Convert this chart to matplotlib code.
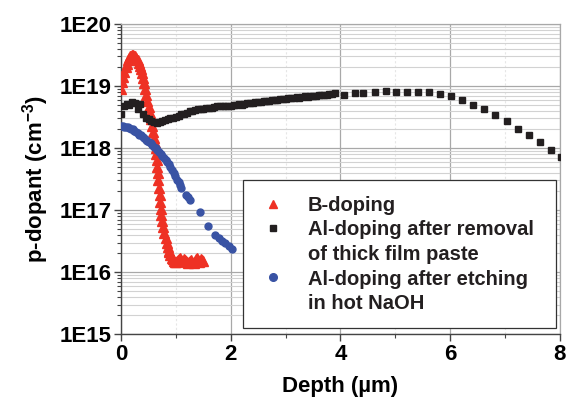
import numpy as np
import matplotlib
matplotlib.use("Agg")
import matplotlib.pyplot as plt
from matplotlib.lines import Line2D
from matplotlib.ticker import FixedLocator, LogLocator, NullFormatter

plt.rcParams['font.family'] = ['Liberation Sans', 'DejaVu Sans']
plt.rcParams['font.weight'] = 'bold'
plt.rcParams['mathtext.fontset'] = 'custom'
plt.rcParams['mathtext.rm'] = 'Liberation Sans:bold'
plt.rcParams['mathtext.bf'] = 'Liberation Sans:bold'

# -----------------------------------
#   DATA
# -----------------------------------
b_depth = [0.00, 0.02, 0.04, 0.06, 0.08, 0.10, 0.12, 0.14, 0.16, 0.18,
           0.20, 0.22, 0.24, 0.26, 0.28, 0.30, 0.32, 0.34, 0.36, 0.38,
           0.40, 0.42, 0.44, 0.46, 0.48, 0.50, 0.52, 0.54, 0.56, 0.58,
           0.60, 0.62,
           0.63, 0.64, 0.65, 0.66, 0.67, 0.68, 0.69, 0.70, 0.71, 0.72,
           0.73, 0.75, 0.77, 0.79, 0.81, 0.83, 0.85, 0.87,
           0.88, 0.90, 0.92, 0.94, 0.96, 0.98, 1.00, 1.02, 1.04, 1.06,
           1.08, 1.10, 1.12, 1.14, 1.16, 1.18, 1.20, 1.22, 1.24, 1.26,
           1.28, 1.30, 1.32, 1.34, 1.36, 1.38, 1.40, 1.42, 1.44, 1.46,
           1.48, 1.50]
b_conc = [9.0e18, 1.15e19, 1.4e19, 1.7e19, 2.0e19, 2.3e19, 2.6e19, 2.8e19, 3.0e19, 3.1e19,
          3.15e19, 3.15e19, 3.1e19, 3.0e19, 2.8e19, 2.6e19, 2.35e19, 2.1e19, 1.85e19, 1.6e19,
          1.35e19, 1.1e19, 9.0e18, 7.3e18, 5.8e18, 4.6e18, 3.7e18, 2.9e18, 2.3e18, 1.8e18,
          1.45e18, 1.2e18,
          1.0e18, 8.0e17, 6.4e17, 5.0e17, 3.9e17, 3.0e17, 2.3e17, 1.75e17, 1.35e17, 1.05e17,
          8.3e16, 6.6e16, 5.3e16, 4.3e16, 3.5e16, 2.9e16, 2.5e16, 2.2e16,
          2.1e16, 1.9e16, 1.7e16, 1.6e16, 1.5e16, 1.45e16, 1.45e16, 1.5e16, 1.55e16, 1.6e16,
          1.7e16, 1.55e16, 1.5e16, 1.6e16, 1.55e16, 1.5e16, 1.45e16, 1.4e16, 1.45e16, 1.5e16,
          1.55e16, 1.45e16, 1.4e16, 1.5e16, 1.6e16, 1.7e16, 1.55e16, 1.45e16, 1.5e16, 1.6e16,
          1.55e16, 1.5e16]

paste_depth = [0.00, 0.05, 0.10, 0.15, 0.20, 0.25, 0.30, 0.35, 0.40, 0.45,
               0.50, 0.55, 0.60, 0.65, 0.70, 0.75, 0.80, 0.85, 0.90, 0.95,
               1.00, 1.05, 1.10, 1.15, 1.20, 1.25, 1.30, 1.35, 1.40, 1.45,
               1.50, 1.55, 1.60, 1.65, 1.70, 1.75, 1.80, 1.85, 1.90, 1.95,
               2.00, 2.05, 2.10, 2.15, 2.20, 2.25, 2.30, 2.35, 2.40, 2.45,
               2.50, 2.55, 2.60, 2.65, 2.70, 2.75, 2.80, 2.85, 2.90, 2.95,
               3.00, 3.05, 3.10, 3.15, 3.20, 3.25, 3.30, 3.35, 3.40, 3.45,
               3.50, 3.55, 3.60, 3.65, 3.70, 3.75, 3.80, 3.85, 3.90,
               4.07, 4.27, 4.42, 4.63, 4.83, 5.02, 5.22, 5.42, 5.62, 5.82,
               6.02, 6.22, 6.42, 6.62, 6.82, 7.03, 7.23, 7.43, 7.64, 7.84,
               8.03]
paste_conc = [3.5e18, 4.8e18, 5.2e18, 5.0e18, 5.6e18, 5.4e18, 4.3e18, 5.2e18, 3.6e18, 3.0e18,
              2.9e18, 2.7e18, 2.6e18, 2.5e18, 2.6e18, 2.7e18, 2.8e18, 2.9e18, 3.0e18, 3.1e18,
              3.2e18, 3.3e18, 3.5e18, 3.6e18, 3.7e18, 3.9e18, 4.0e18, 4.1e18, 4.2e18, 4.3e18,
              4.3e18, 4.4e18, 4.5e18, 4.5e18, 4.6e18, 4.7e18, 4.7e18, 4.8e18, 4.8e18, 4.8e18,
              4.7e18, 4.9e18, 5.0e18, 5.1e18, 5.0e18, 5.2e18, 5.3e18, 5.4e18, 5.3e18, 5.5e18,
              5.6e18, 5.5e18, 5.7e18, 5.8e18, 5.7e18, 5.9e18, 6.0e18, 5.9e18, 6.1e18, 6.2e18,
              6.1e18, 6.3e18, 6.4e18, 6.3e18, 6.6e18, 6.5e18, 6.7e18, 6.8e18, 6.7e18, 6.9e18,
              7.0e18, 6.9e18, 7.1e18, 7.2e18, 7.1e18, 7.3e18, 7.4e18, 7.5e18, 7.6e18,
              7.3e18, 7.8e18, 7.6e18, 8.1e18, 8.3e18, 8.1e18, 8.0e18, 8.0e18, 7.9e18, 7.4e18,
              6.8e18, 5.9e18, 5.0e18, 4.2e18, 3.4e18, 2.7e18, 2.0e18, 1.6e18, 1.23e18, 9.3e17,
              7.1e17]

naoh_depth = [0.00, 0.03, 0.06, 0.09, 0.12, 0.15, 0.18, 0.21, 0.24, 0.27,
              0.30, 0.33, 0.36, 0.39, 0.42, 0.45, 0.48, 0.51, 0.54, 0.57,
              0.60, 0.63, 0.66, 0.69, 0.72, 0.75, 0.78, 0.81, 0.84, 0.87,
              0.90, 0.93, 0.96, 0.99, 1.02, 1.05, 1.08, 1.10,
              1.18, 1.22, 1.26, 1.43, 1.59,
              1.72, 1.78, 1.84, 1.90, 1.96, 2.02]
naoh_conc = [2.3e18, 2.25e18, 2.2e18, 2.2e18, 2.15e18, 2.1e18, 2.05e18, 2.0e18, 1.9e18, 1.8e18,
             1.75e18, 1.65e18, 1.6e18, 1.5e18, 1.45e18, 1.35e18, 1.3e18, 1.25e18, 1.2e18, 1.1e18,
             1.05e18, 1.0e18, 9.2e17, 8.5e17, 8.0e17, 7.5e17, 7.0e17, 6.5e17, 6.0e17, 5.5e17,
             5.0e17, 4.5e17, 4.0e17, 3.5e17, 3.1e17, 2.8e17, 2.5e17, 2.3e17,
             1.75e17, 1.6e17, 1.45e17, 9.3e16, 5.5e16,
             3.9e16, 3.5e16, 3.2e16, 2.9e16, 2.6e16, 2.35e16]

x_ticks = [0, 2, 4, 6, 8]
y_ticks = [1e15, 1e16, 1e17, 1e18, 1e19, 1e20]
y_tick_labels = ['1E15', '1E16', '1E17', '1E18', '1E19', '1E20']

# -----------------------------------
#   FIGURE
# -----------------------------------
fig = plt.figure(figsize=(5.66, 4.07), dpi=100)
ax = fig.add_axes([0.214, 0.179, 0.775, 0.762])

ax.set_yscale('log')
ax.set_xlim(0, 8)
ax.set_ylim(1e15, 1e20)

# grid
ax.set_xticks(x_ticks)
ax.xaxis.set_minor_locator(FixedLocator([1, 3, 5, 7]))
ax.set_yticks(y_ticks)
ax.set_yticklabels(y_tick_labels)
ax.yaxis.set_minor_locator(LogLocator(base=10, subs=np.arange(2, 10)))
ax.yaxis.set_minor_formatter(NullFormatter())
ax.grid(which='major', axis='both', color='#a8a8a8', lw=0.9)
ax.grid(which='minor', axis='y', color='#d2d2d2', lw=0.8)
ax.grid(which='minor', axis='x', color='#e6e6e6', lw=0.8, ls=(0, (2, 2)))
ax.set_axisbelow(True)

ax.tick_params(which='major', direction='out', length=5, width=1, color='#444444',
               labelsize=16, pad=2)
ax.tick_params(which='minor', direction='out', length=3, width=0.8, color='#444444')
for s in ['left', 'bottom']:
    ax.spines[s].set_color('#444444')
    ax.spines[s].set_linewidth(1.0)
for s in ['top', 'right']:
    ax.spines[s].set_color('#a8a8a8')
    ax.spines[s].set_linewidth(0.9)

# data
ax.plot(b_depth, b_conc, ls='none', marker='^', ms=6.5, color='#ee3124', mec='#ee3124',
        clip_on=True, zorder=3)
ax.plot(paste_depth, paste_conc, ls='none', marker='s', ms=4.2, color='#231f20',
        clip_on=True, zorder=4)
ax.plot(naoh_depth, naoh_conc, ls='none', marker='o', ms=5, color='#3953a4',
        clip_on=True, zorder=5)

ax.set_xlabel('Depth (\u00b5m)', fontsize=16, fontweight='bold', labelpad=8)
ax.set_ylabel(r'p-dopant (cm$^{-3}$)', fontsize=16, fontweight='bold', labelpad=6)

# legend: continuation lines as entries without markers
h_b = Line2D([], [], ls='none', marker='^', ms=6, color='#ee3124')
h_p = Line2D([], [], ls='none', marker='s', ms=4.5, color='#231f20')
h_n = Line2D([], [], ls='none', marker='o', ms=5.5, color='#3953a4')
h_blank = Line2D([], [], ls='none')
leg = ax.legend([h_b, h_p, h_blank, h_n, h_blank],
                ['B-doping', 'Al-doping after removal', 'of thick film paste',
                 'Al-doping after etching', 'in hot NaOH'],
                loc='lower left', bbox_to_anchor=(0.278, 0.019, 0.713, 0.47),
                mode='expand',
                prop={'size': 14.5, 'weight': 'bold'}, frameon=True, fancybox=False,
                edgecolor='#333333', framealpha=1, labelspacing=0.28,
                handlelength=1.5, handletextpad=0.95, borderpad=0.75, borderaxespad=0)
leg.get_frame().set_linewidth(0.9)
for t in leg.get_texts():
    t.set_color('#231f20')

fig.savefig('out.png', dpi=100)
